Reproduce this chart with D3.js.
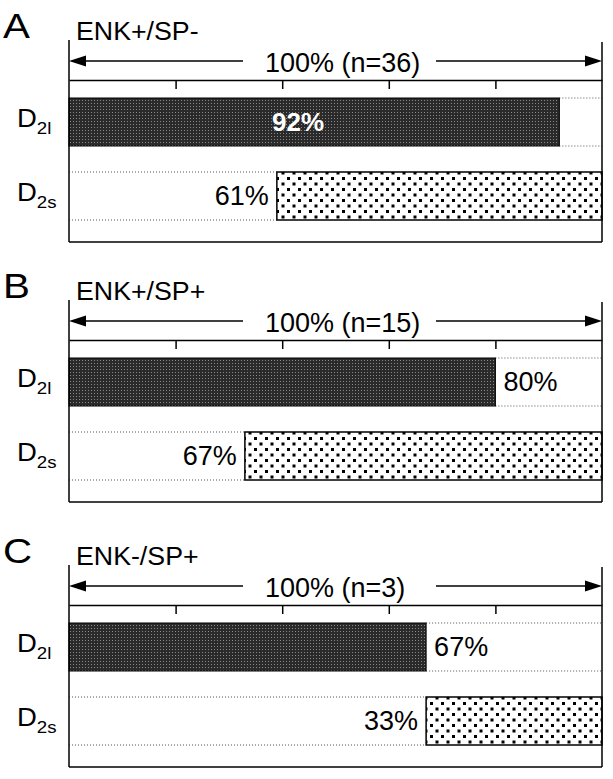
<!DOCTYPE html>
<html>
<head>
<meta charset="utf-8">
<script src="https://cdn.jsdelivr.net/npm/d3@7"></script>
<style>
  body { margin: 0; background: #fff; }
  text { font-family: "Liberation Sans", Arial, Helvetica, sans-serif; }
</style>
</head>
<body>
<div id="chart"></div>
<script>
// panel data
const panelLetters = ["A", "B", "C"];
const panelTitles = ["ENK+/SP-", "ENK+/SP+", "ENK-/SP+"];
const panelN = [36, 15, 3];
const d2lValues = [92, 80, 67];
const d2sValues = [61, 67, 33];
const rows = ["D2l", "D2s"];
const rowSubs = ["2l", "2s"];
const tickValues = [20, 40, 60, 80];

const width = 613, height = 779;
const panelOffsets = [0, 260, 525];

const svg = d3.select("#chart").append("svg")
    .attr("width", width)
    .attr("height", height);

// fills
let defs = svg.append("defs");
let dark = defs.append("pattern")
    .attr("id", "dark")
    .attr("width", 3).attr("height", 3)
    .attr("patternUnits", "userSpaceOnUse");
dark.append("rect").attr("width", 3).attr("height", 3).attr("fill", "#2a2a2a");
dark.append("rect").attr("x", 1).attr("y", 1).attr("width", 1).attr("height", 1).attr("fill", "#888");

let dots = defs.append("pattern")
    .attr("id", "dots")
    .attr("width", 11).attr("height", 11)
    .attr("patternUnits", "userSpaceOnUse");
dots.append("rect").attr("width", 11).attr("height", 11).attr("fill", "#fff");
dots.append("rect").attr("x", 1).attr("y", 1).attr("width", 3).attr("height", 3).attr("fill", "#000");
dots.append("rect").attr("x", 6.5).attr("y", 6.5).attr("width", 3).attr("height", 3).attr("fill", "#000");

const x = d3.scaleLinear().domain([0, 100]).range([69, 602]);
const y = d3.scalePoint().domain(rows).range([122, 196]);
const barH = 48;
const axisY = 80, frameTop = 40, frameBottom = 242;

function arrow(g, x1, x2, yy) {
    // line with arrowhead at x2
    let dir = x2 > x1 ? 1 : -1;
    g.append("line")
        .attr("x1", x1).attr("x2", x2 - dir * 12)
        .attr("y1", yy).attr("y2", yy)
        .attr("stroke", "#000").attr("stroke-width", 1.5);
    g.append("path")
        .attr("d", `M${x2},${yy} L${x2 - dir * 17},${yy - 5.5} L${x2 - dir * 17},${yy + 5.5} Z`)
        .attr("fill", "#000");
}

panelLetters.forEach(function(letter, i) {
    let g = svg.append("g").attr("transform", `translate(0,${panelOffsets[i]})`);

    g.append("text")
        .attr("x", 3).attr("y", 38)
        .attr("font-size", 36)
        .attr("transform", "translate(3,38) scale(1.12,1) translate(-3,-38)")
        .text(letter);

    g.append("text")
        .attr("x", 76).attr("y", 40)
        .attr("font-size", 25)
        .attr("transform", "translate(76,40) scale(1.07,1) translate(-76,-40)")
        .text(panelTitles[i]);

    // 100% arrows
    arrow(g, 243, x(0), 61);
    arrow(g, 436, x(100), 61);
    g.append("text")
        .attr("x", 265).attr("y", 72)
        .attr("font-size", 27)
        .text(`100% (n=${panelN[i]})`);

    // guide lines
    let vals = [d2lValues[i], d2sValues[i]];
    rows.forEach(function(r, j) {
        let top = y(r) - barH / 2, bot = y(r) + barH / 2;
        let a, b;
        if (j === 0) { a = x(vals[j]); b = x(100); }
        else { a = x(0); b = x(100 - vals[j]); }
        [top, bot].forEach(function(yy) {
            g.append("line")
                .attr("x1", a).attr("x2", b)
                .attr("y1", yy).attr("y2", yy)
                .attr("stroke", "#555")
                .attr("stroke-width", 1)
                .attr("stroke-dasharray", "1,2");
        });
    });

    // bars
    g.append("rect")
        .attr("x", x(0))
        .attr("y", y("D2l") - barH / 2)
        .attr("width", x(d2lValues[i]) - x(0))
        .attr("height", barH)
        .attr("fill", "url(#dark)")
        .attr("stroke", "#000").attr("stroke-width", 1);

    g.append("rect")
        .attr("x", x(100 - d2sValues[i]))
        .attr("y", y("D2s") - barH / 2)
        .attr("width", x(100) - x(100 - d2sValues[i]))
        .attr("height", barH)
        .attr("fill", "url(#dots)")
        .attr("stroke", "#000").attr("stroke-width", 1.5);

    // value labels
    if (d2lValues[i] > 85) {
        g.append("text")
            .attr("x", 298).attr("y", y("D2l") + 9)
            .attr("text-anchor", "middle")
            .attr("font-size", 26).attr("font-weight", "bold")
            .attr("fill", "#fff")
            .text(d2lValues[i] + "%");
    } else {
        g.append("text")
            .attr("x", x(d2lValues[i]) + 8).attr("y", y("D2l") + 9)
            .attr("font-size", 27)
            .text(d2lValues[i] + "%");
    }
    g.append("text")
        .attr("x", x(100 - d2sValues[i]) - 8).attr("y", y("D2s") + 9)
        .attr("text-anchor", "end")
        .attr("font-size", 27)
        .text(d2sValues[i] + "%");

    // row labels
    rows.forEach(function(r, j) {
        let t = g.append("text")
            .attr("x", 17).attr("y", y(r) + 5)
            .attr("font-size", 25)
            .attr("transform", `translate(17,${y(r)}) scale(1.1,1) translate(-17,${-y(r)})`);
        t.append("tspan").text("D");
        t.append("tspan").attr("dy", 7).attr("font-size", 17).text(rowSubs[j]);
    });

    // axis with ticks
    let axis = g.append("g")
        .attr("transform", `translate(0,${axisY})`)
        .call(d3.axisBottom(x).tickValues(tickValues).tickSize(9).tickSizeOuter(0).tickFormat(""));
    axis.select(".domain").attr("stroke-width", 1.5);
    axis.selectAll(".tick line").attr("stroke-width", 1.5);

    // frame
    g.append("line").attr("x1", x(0)).attr("x2", x(0)).attr("y1", frameTop).attr("y2", frameBottom)
        .attr("stroke", "#000").attr("stroke-width", 1.5);
    g.append("line").attr("x1", x(100)).attr("x2", x(100)).attr("y1", frameTop + 2).attr("y2", frameBottom)
        .attr("stroke", "#000").attr("stroke-width", 1.5);
    g.append("line").attr("x1", x(0)).attr("x2", x(100)).attr("y1", frameBottom).attr("y2", frameBottom)
        .attr("stroke", "#000").attr("stroke-width", 1.5);
});
</script>
</body>
</html>
